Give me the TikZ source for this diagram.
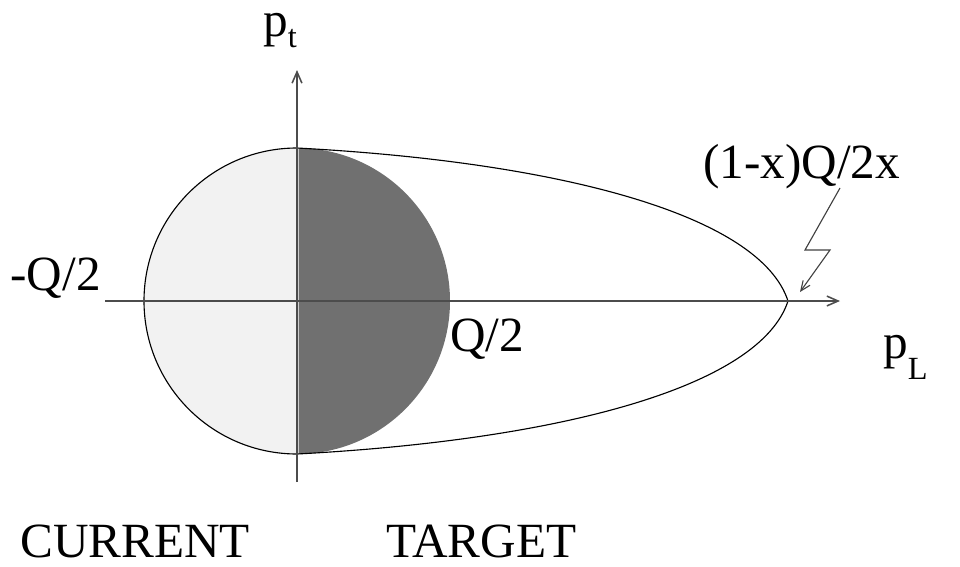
\documentclass[tikz,border=0pt]{standalone}
\usepackage{fontspec}
\setmainfont{Liberation Serif}
\usetikzlibrary{arrows.meta}
\definecolor{curfill}{RGB}{242, 242, 242}
\definecolor{tgtfill}{RGB}{112, 112, 112}
\tikzset{
    axisline/.style={draw=black!70, line width=1.1pt, -{Straight Barb[length=8pt, width=7pt]}},
    pointer/.style={draw=black!75, line width=0.8pt, -{Straight Barb[length=7pt, width=6pt]}},
    outline/.style={draw=black, line width=0.8pt},
    axlbl/.style={font=\fontsize{35}{42}\selectfont, inner sep=0pt, anchor=base west},
}
\newcommand{\lowsub}[2]{\raisebox{-#1}{\fontsize{23}{23}\selectfont #2}}

\begin{document}
\begin{tikzpicture}[x=0.025cm, y=-0.025cm]
    \useasboundingbox (0,0) rectangle (960,566);

    % current (left) and target (right) half discs
    \begin{scope}
        \clip (0,0) rectangle (297,566);
        \fill[curfill] (297,301) circle[radius=153];
        \draw[outline] (297,301) circle[radius=153];
    \end{scope}
    \begin{scope}
        \clip (298.5,0) rectangle (960,566);
        \fill[tgtfill] (297,301) circle[radius=153];
    \end{scope}

    % boosted region
    \draw[outline] (297,148) .. controls (560,162) and (760,215) .. (788,301)
        .. controls (760,387) and (560,440) .. (297,454);

    % axes
    \coordinate (xfrom) at (105,301);
    \coordinate (xto) at (840,301);
    \coordinate (yfrom) at (297,482);
    \coordinate (yto) at (297,70);
    \draw[axisline] (xfrom) -- (xto);
    \draw[axisline] (yfrom) -- (yto);

    \node[axlbl] (pt) at (263,36) {p\lowsub{8pt}{t}};
    \node[axlbl] (pl) at (883,358) {p\lowsub{15pt}{L}};
    \node[axlbl, anchor=base east] (negq) at (101,290) {-Q/2};
    \node[axlbl] (posq) at (450,351) {Q/2};
    \node[axlbl] (tiplbl) at (703,178) {(1-x)Q/2x};

    % zigzag pointer to the tip
    \coordinate (zz0) at (840,188);
    \coordinate (zz1) at (805,250);
    \coordinate (zz2) at (830,250);
    \coordinate (zzend) at (800,292);
    \draw[pointer] (zz0) -- (zz1) -- (zz2) -- (zzend);

    \node[axlbl] (cur) at (20,557) {CURRENT};
    \node[axlbl] (tgt) at (386,557) {TARGET};
\end{tikzpicture}
\end{document}
